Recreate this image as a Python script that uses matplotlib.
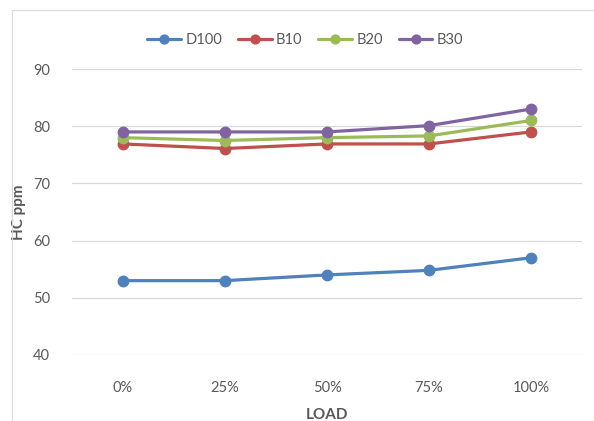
import matplotlib
matplotlib.use("Agg")
import matplotlib.pyplot as plt
from matplotlib.patches import Rectangle

plt.rcParams['font.family'] = ['Lato', 'DejaVu Sans']

loads = ["0%", "25%", "50%", "75%", "100%"]
d100 = [53, 53, 54, 54.8, 57]
b10 = [76.9, 76.1, 76.9, 76.9, 79]
b20 = [78, 77.5, 78, 78.3, 81]
b30 = [79, 79, 79, 80.1, 83]
yticks = [40, 50, 60, 70, 80, 90]

series = [
    ("D100", d100, "#4F81BD"),
    ("B10", b10, "#C0504D"),
    ("B20", b20, "#9BBB59"),
    ("B30", b30, "#8064A2"),
]

fig = plt.figure(figsize=(5.94, 4.21), dpi=100)
ax = fig.add_axes([72/594, 1-355/421, 510/594, 286/421])

x = list(range(len(loads)))
for name, vals, col in series:
    ax.plot(x, vals, color=col, lw=2.3, marker="o", ms=7.5, label=name,
            solid_capstyle="round")

ax.set_xlim(-0.5, len(loads) - 0.5)
ax.set_ylim(40, 90)
ax.set_yticks(yticks)
ax.set_xticks(x)
ax.set_xticklabels(loads)
ax.yaxis.grid(True, color="#d9d9d9", lw=0.9)
ax.set_axisbelow(True)
for s in ax.spines.values():
    s.set_visible(False)
ax.tick_params(length=0, colors="#595959", labelsize=10.5)
ax.tick_params(axis="x", pad=19)
ax.tick_params(axis="y", pad=16)

ax.set_xlabel("LOAD", fontsize=11, fontweight="bold", color="#595959", labelpad=9)
ax.set_ylabel("HC ppm", fontsize=11, fontweight="bold", color="#595959", labelpad=5)

leg = fig.legend(loc="center", bbox_to_anchor=(0.514, 1-40/421), ncol=4,
                 frameon=False, fontsize=10.5, handlelength=2.3,
                 columnspacing=1.1, handletextpad=0.3, markerscale=0.85)
for t in leg.get_texts():
    t.set_color("#595959")

fig.patches.append(Rectangle((12/594, 0), 1, 1-10/421, transform=fig.transFigure,
                             fill=False, edgecolor="#d9d9d9", lw=0.8))

fig.savefig("out.png", dpi=100)
